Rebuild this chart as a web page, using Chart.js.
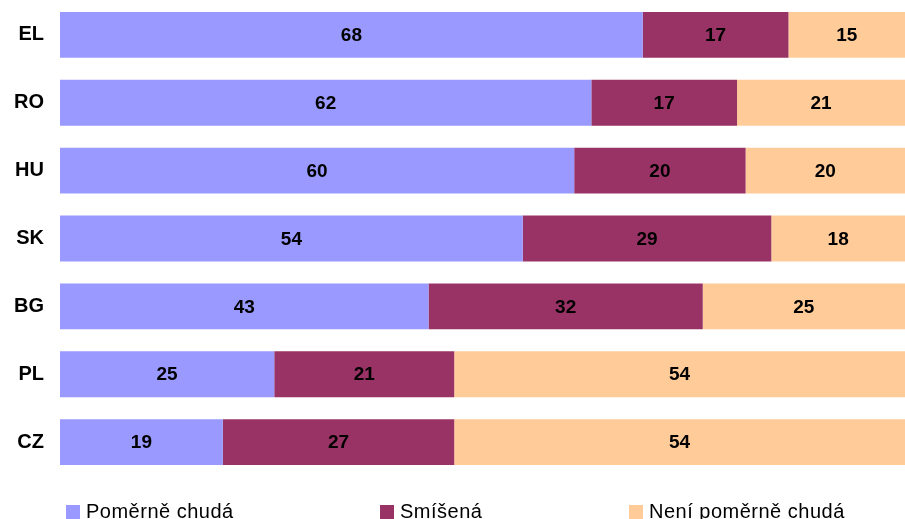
<!DOCTYPE html>
<html>
<head>
<meta charset="utf-8">
<script src="https://cdn.jsdelivr.net/npm/chart.js@4"></script>
<style>
  html, body { margin: 0; padding: 0; background: #fff; overflow: hidden; }
  #wrap { width: 905px; height: 519px; }
</style>
</head>
<body>
<div id="wrap"><canvas id="chart" width="905" height="519"></canvas></div>
<script>
const countries = ['EL', 'RO', 'HU', 'SK', 'BG', 'PL', 'CZ'];
const poor = [68, 62, 60, 54, 43, 25, 19];
const mixed = [17, 17, 20, 29, 32, 21, 27];
const notPoor = [15, 21, 20, 18, 25, 54, 54];
const seriesNames = ['Poměrně chudá', 'Smíšená', 'Není poměrně chudá'];
const colors = ['#9999ff', '#993366', '#ffcc99'];

// value labels in the middle of each segment
const barLabels = {
    id: 'barLabels',
    afterDatasetsDraw(chart) {
        const ctx = chart.ctx;
        ctx.save();
        ctx.font = 'bold 19px "Liberation Sans", Arial, sans-serif';
        ctx.fillStyle = '#000';
        ctx.textAlign = 'center';
        ctx.textBaseline = 'middle';
        chart.data.datasets.forEach((ds, i) => {
            chart.getDatasetMeta(i).data.forEach((bar, j) => {
                const cx = Math.min((bar.x + bar.base) / 2, bar.base + (chart.width - bar.base) / 2);
                ctx.fillText(ds.data[j], cx, bar.y + 1);
            });
        });
        ctx.restore();
    }
};

// legend along the bottom edge
const bottomLegend = {
    id: 'bottomLegend',
    afterDraw(chart) {
        const ctx = chart.ctx;
        const xs = [66, 380, 629];
        ctx.save();
        ctx.font = '20px "Liberation Sans", Arial, sans-serif';
        ctx.letterSpacing = '0.5px';
        ctx.textBaseline = 'alphabetic';
        seriesNames.forEach((name, i) => {
            ctx.fillStyle = colors[i];
            ctx.fillRect(xs[i], 505, 14, 14);
            ctx.fillStyle = '#000';
            ctx.fillText(name, xs[i] + 20, 518);
        });
        ctx.restore();
    }
};

new Chart(document.getElementById('chart'), {
    type: 'bar',
    data: {
        labels: countries,
        datasets: [poor, mixed, notPoor].map((d, i) => ({
            label: seriesNames[i],
            data: d,
            backgroundColor: colors[i],
            borderWidth: 0,
            barPercentage: 1,
            categoryPercentage: 0.676
        }))
    },
    options: {
        indexAxis: 'y',
        responsive: false,
        animation: false,
        layout: { padding: { top: 1, bottom: 43, right: 0, left: 0 } },
        plugins: {
            legend: { display: false },
            tooltip: { enabled: false }
        },
        scales: {
            x: { stacked: true, display: false, min: 0, max: 98.6 },
            y: {
                stacked: true,
                grid: { display: false },
                border: { display: false },
                afterFit(scale) {
                    scale.width = 60;
                    scale.paddingTop = 0;
                    scale.paddingBottom = 0;
                },
                ticks: {
                    color: '#000',
                    padding: 8,
                    font: { family: '"Liberation Sans", Arial, sans-serif', size: 20, weight: 'bold' }
                }
            }
        }
    },
    plugins: [barLabels, bottomLegend]
});
</script>
</body>
</html>
